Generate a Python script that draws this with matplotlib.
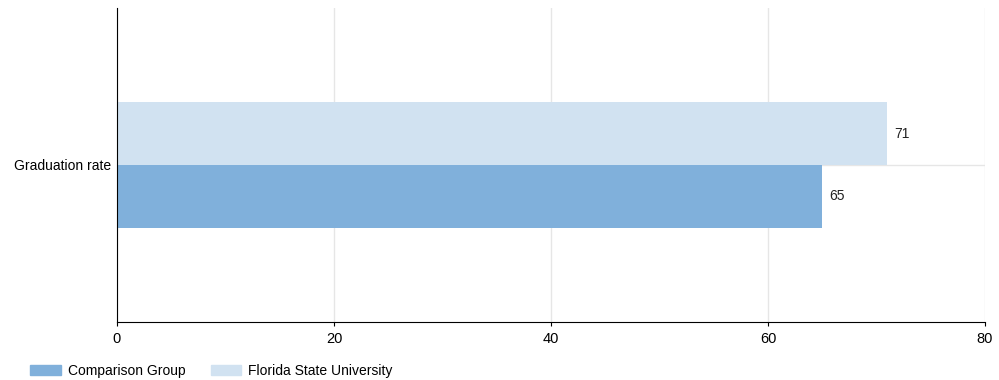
import matplotlib.pyplot as plt
from matplotlib.patches import Patch

plt.rcParams['font.family'] = ['Liberation Sans', 'DejaVu Sans']

category = "Graduation rate"
series_names = ["Comparison Group", "Florida State University"]
comparison = [65]
fsu = [71]
colors = ["#80B0DB", "#D1E2F1"]
xticks = [0, 20, 40, 60, 80]

fig = plt.figure(figsize=(9.99, 3.8), dpi=100)
ax = fig.add_axes([0.1171, 0.1526, 0.8689, 0.8264])

h = 0.2
ax.barh([0.1], fsu, height=h, color=colors[1], zorder=2)
ax.barh([-0.1], comparison, height=h, color=colors[0], zorder=2)

for v, y in [(fsu[0], 0.1), (comparison[0], -0.1)]:
    ax.text(v + 0.6, y, str(v), va="center", ha="left", fontsize=10, color="#222222")

ax.set_xlim(0, 80)
ax.set_ylim(-0.5, 0.5)
ax.set_xticks(xticks)
ax.set_yticks([0])
ax.set_yticklabels([category], fontsize=10)
ax.tick_params(axis="y", length=0, pad=4)
ax.tick_params(axis="x", length=3, labelsize=10.5, pad=4)
ax.grid(axis="x", color="#E6E6E6", linewidth=1, zorder=0)
ax.axhline(0, color="#E6E6E6", linewidth=1, zorder=1)
for s in ["top", "right"]:
    ax.spines[s].set_visible(False)
ax.spines["left"].set_color("black")
ax.spines["bottom"].set_color("black")

handles = [Patch(color=colors[0]), Patch(color=colors[1])]
fig.legend(handles, series_names, loc="lower left", bbox_to_anchor=(0.018, -0.028),
           ncol=2, frameon=False, fontsize=10, handlelength=2.2, handleheight=0.7,
           columnspacing=1.8, handletextpad=0.5)

fig.savefig("out.png", dpi=100)
